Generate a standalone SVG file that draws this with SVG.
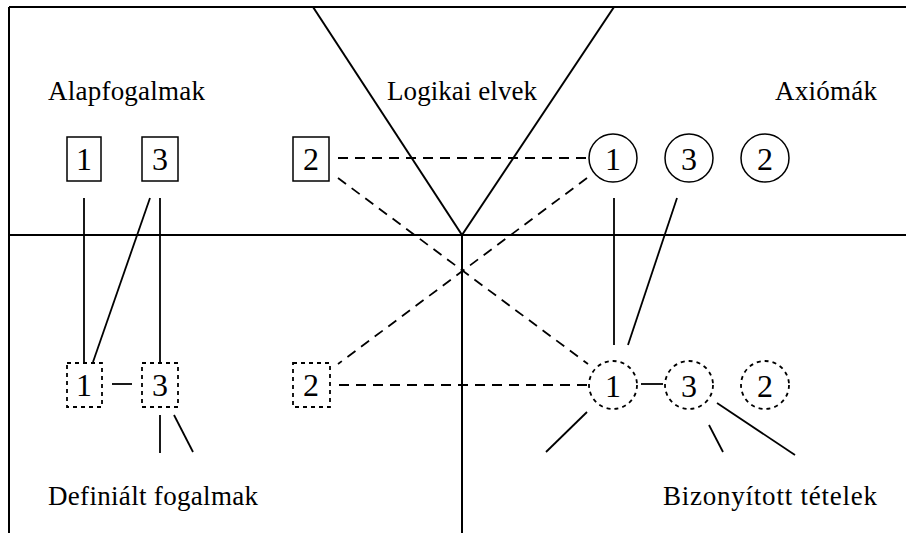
<svg xmlns="http://www.w3.org/2000/svg" width="906" height="533" viewBox="0 0 906 533">
<style>
.frame{stroke:#000;stroke-width:2;fill:none}
.solid{stroke:#000;stroke-width:1.8;fill:none}
.dash{stroke:#000;stroke-width:1.8;fill:none;stroke-dasharray:10 7}
.box{stroke:#000;stroke-width:1.5;fill:#fff}
.dot{stroke:#000;stroke-width:1.8;fill:#fff;stroke-dasharray:4 4}
text{font-family:Liberation Serif, DejaVu Serif, Times New Roman, serif;fill:#000}
.num{font-size:32px;text-anchor:middle}
.lbl{font-size:27px}
</style>
<rect width="906" height="533" fill="#fff"/>
<g id="frame" class="frame">
<line x1="9" y1="7" x2="906" y2="7"/>
<line x1="9" y1="7" x2="9" y2="533"/>
<line x1="9" y1="235" x2="906" y2="235"/>
<line x1="462" y1="235" x2="462" y2="533"/>
<line x1="313" y1="7" x2="462" y2="235"/>
<line x1="614" y1="7" x2="462" y2="235"/>
</g>
<g id="labels">
<text class="lbl" x="48" y="100" textLength="157">Alapfogalmak</text>
<text class="lbl" x="387" y="100" textLength="150">Logikai elvek</text>
<text class="lbl" x="775" y="100" textLength="102">Axiómák</text>
<text class="lbl" x="48" y="505" textLength="210">Definiált fogalmak</text>
<text class="lbl" x="663" y="505" textLength="214">Bizonyított tételek</text>
</g>
<g id="connectors">
<line class="solid" x1="84" y1="198" x2="84" y2="363"/>
<line class="solid" x1="150" y1="198" x2="93" y2="362"/>
<line class="solid" x1="160" y1="198" x2="160" y2="363"/>
<line class="solid" x1="112" y1="384" x2="132" y2="384"/>
<line class="solid" x1="160" y1="415" x2="160" y2="453"/>
<line class="solid" x1="174" y1="415" x2="193" y2="452"/>
<line class="dash" x1="338" y1="158" x2="589" y2="158"/>
<line class="dash" x1="338" y1="178" x2="588" y2="364"/>
<line class="dash" x1="587" y1="178" x2="338" y2="364"/>
<line class="dash" x1="339" y1="385" x2="589" y2="385"/>
<line class="solid" x1="614" y1="198" x2="614" y2="345"/>
<line class="solid" x1="677" y1="198" x2="628" y2="345"/>
<line class="solid" x1="641" y1="384" x2="663" y2="384"/>
<line class="solid" x1="587" y1="412" x2="546" y2="452"/>
<line class="solid" x1="709" y1="425" x2="723" y2="452"/>
<line class="solid" x1="717" y1="403" x2="795" y2="455"/>
</g>
<g id="node-b1"><rect class="box" x="67" y="137" width="34" height="44"/><text class="num" x="84" y="170">1</text></g>
<g id="node-b3"><rect class="box" x="142" y="137" width="36" height="44"/><text class="num" x="160" y="170">3</text></g>
<g id="node-b2"><rect class="box" x="293" y="137" width="36" height="44"/><text class="num" x="311" y="170">2</text></g>
<g id="node-a1"><circle class="box" cx="613" cy="158" r="24"/><text class="num" x="613" y="170">1</text></g>
<g id="node-a3"><circle class="box" cx="689" cy="158" r="24"/><text class="num" x="689" y="170">3</text></g>
<g id="node-a2"><circle class="box" cx="765" cy="158" r="24"/><text class="num" x="765" y="170">2</text></g>
<g id="node-d1"><rect class="dot" x="67" y="363" width="35" height="44"/><text class="num" x="84" y="396">1</text></g>
<g id="node-d3"><rect class="dot" x="142" y="363" width="36" height="44"/><text class="num" x="160" y="396">3</text></g>
<g id="node-d2"><rect class="dot" x="293" y="363" width="37" height="44"/><text class="num" x="311" y="396">2</text></g>
<g id="node-t1"><circle class="dot" cx="613" cy="385" r="24"/><text class="num" x="613" y="397">1</text></g>
<g id="node-t3"><circle class="dot" cx="689" cy="385" r="24"/><text class="num" x="689" y="397">3</text></g>
<g id="node-t2"><circle class="dot" cx="765" cy="385" r="24"/><text class="num" x="765" y="397">2</text></g>
</svg>
